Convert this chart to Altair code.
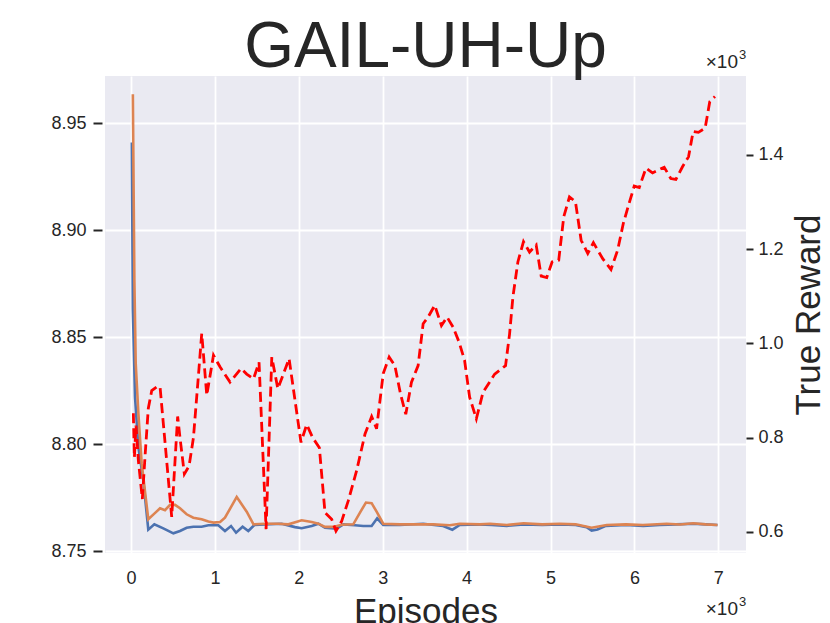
import altair as alt
import pandas as pd

# ---------------- data ----------------
blue_x = [10, 22, 48, 88, 147, 206, 278, 385, 505, 584, 663, 743, 842, 922, 1041,
          1120, 1192, 1252, 1330, 1398, 1470, 1597, 1795, 1955, 2034, 2154, 2233,
          2312, 2451, 2530, 2669, 2768, 2868, 2934, 3006, 3204, 3482, 3720, 3830,
          3918, 4156, 4300, 4480, 4680, 4900, 5110, 5300, 5430, 5490, 5560, 5660,
          5900, 6105, 6300, 6500, 6700, 6850, 6990]
blue_y = [8.941, 8.863, 8.822, 8.7985, 8.783, 8.760, 8.7625, 8.7606, 8.7583, 8.7594,
          8.7609, 8.7614, 8.7614, 8.7621, 8.7621, 8.7594, 8.7617, 8.7586, 8.7614,
          8.7594, 8.7622, 8.7625, 8.7628, 8.7612, 8.7607, 8.7617, 8.7628, 8.7609,
          8.7605, 8.7625, 8.7621, 8.7617, 8.7617, 8.7653, 8.7622, 8.7622, 8.7628,
          8.7617, 8.7600, 8.7622, 8.7625, 8.7622, 8.7618, 8.7625, 8.7622, 8.7625,
          8.7622, 8.7612, 8.7596, 8.7601, 8.7618, 8.7622, 8.7617, 8.7622, 8.7625,
          8.7628, 8.7625, 8.7622]

orange_x = [22, 40, 56, 88, 127, 206, 278, 346, 405, 465, 525, 584, 663, 743, 842,
            922, 983, 1062, 1120, 1260, 1379, 1460, 1597, 1756, 1876, 2034, 2154,
            2233, 2312, 2411, 2511, 2649, 2729, 2800, 2868, 2934, 3006, 3204, 3402,
            3601, 3800, 3918, 4156, 4280, 4480, 4680, 4900, 5110, 5300, 5490, 5670,
            5900, 6100, 6385, 6545, 6700, 6850, 6990]
orange_y = [8.9636, 8.8768, 8.8378, 8.8143, 8.791, 8.7649, 8.7675, 8.770, 8.7691,
            8.7716, 8.7716, 8.770, 8.7672, 8.7656, 8.7649, 8.7638, 8.7633, 8.7636,
            8.7656, 8.7753, 8.7684, 8.7625, 8.7628, 8.7628, 8.7625, 8.7644, 8.7636,
            8.7628, 8.7613, 8.7613, 8.7623, 8.7625, 8.7680, 8.7727, 8.7724, 8.7680,
            8.7628, 8.7625, 8.7625, 8.7625, 8.7621, 8.7628, 8.7625, 8.7628, 8.7622,
            8.7630, 8.7625, 8.7628, 8.7625, 8.7609, 8.7622, 8.7625, 8.7622, 8.7628,
            8.7624, 8.7630, 8.7625, 8.7622]

red_x = [28, 40, 60, 88, 135, 167, 206, 247, 307, 346, 485, 556, 584, 636, 692, 744,
         796, 843, 903, 983, 1062, 1180, 1311, 1379, 1460, 1526, 1610, 1678, 1750,
         1816, 1884, 1955, 2026, 2094, 2166, 2245, 2312, 2392, 2443, 2511, 2589,
         2689, 2789, 2868, 2927, 3006, 3077, 3145, 3212, 3275, 3343, 3422, 3482,
         3541, 3620, 3700, 3767, 3838, 3910, 3976, 4036, 4116, 4195, 4334, 4464,
         4512, 4552, 4611, 4678, 4750, 4829, 4889, 4955, 5019, 5098, 5158, 5226,
         5297, 5365, 5444, 5511, 5622, 5721, 5800, 5868, 5931, 5998, 6058, 6137,
         6216, 6355, 6434, 6494, 6573, 6645, 6700, 6763, 6843, 6898, 6960]
red_y = [852, 758, 826, 751, 670, 760, 862, 900, 908, 908, 632, 845, 800, 723, 740,
         800, 915, 1021, 890, 975, 950, 918, 947, 935, 925, 960, 606, 971, 904, 935,
         968, 879, 790, 828, 800, 779, 641, 627, 602, 623, 666, 730, 808, 845, 819,
         936, 971, 953, 893, 850, 918, 953, 1042, 1056, 1081, 1038, 1056, 1035,
         1003, 964, 886, 840, 896, 935, 953, 1020, 1099, 1173, 1216, 1194, 1209,
         1143, 1140, 1173, 1177, 1269, 1311, 1301, 1219, 1191, 1214, 1180, 1157,
         1198, 1255, 1294, 1334, 1331, 1372, 1362, 1374, 1350, 1348, 1375, 1396,
         1450, 1448, 1457, 1513, 1524]

x_ticks = [0, 1000, 2000, 3000, 4000, 5000, 6000, 7000]
left_ticks = [8.75, 8.80, 8.85, 8.90, 8.95]
right_ticks = [600, 800, 1000, 1200, 1400]

title_text = ["GAIL-UH-Up"]
exp_base = ["×10"]
exp_power = ["3"]

# ---------------- styling ----------------
FONT = "Liberation Sans"
TXT = "#262626"
W, H = 641, 477

blue_df = pd.DataFrame({"x": blue_x, "v": blue_y})
orange_df = pd.DataFrame({"x": orange_x, "v": orange_y})
red_df = pd.DataFrame({"x": red_x, "r": red_y})

xscale = alt.Scale(domain=[-310, 7330], nice=False, zero=False)
lscale = alt.Scale(domain=[8.7491, 8.9721], nice=False, zero=False)
rscale = alt.Scale(domain=[555.4, 1567.6], nice=False, zero=False)

xaxis = alt.Axis(values=x_ticks, labelExpr="format(datum.value / 1000, 'd')",
                 title="Episodes", titleFont=FONT, titleFontSize=35,
                 titleFontWeight="normal", titleColor=TXT, titlePadding=7,
                 labelFont=FONT, labelFontSize=18, labelColor=TXT, labelPadding=16,
                 tickSize=0, domain=False, grid=True, gridColor="white", gridWidth=1.8)

laxis = alt.Axis(values=left_ticks, format=".2f", title=None, orient="left",
                 labelFont=FONT, labelFontSize=18, labelColor=TXT, labelPadding=7,
                 tickSize=9, tickWidth=2, tickColor=TXT, offset=3, domain=False,
                 grid=True, gridColor="white", gridWidth=1.8)

raxis = alt.Axis(values=right_ticks, labelExpr="format(datum.value / 1000, '.1f')",
                 orient="right", title="True Reward", titleFont=FONT, titleFontSize=35,
                 titleFontWeight="normal", titleColor=TXT, titleAngle=270,
                 titleBaseline="top", titlePadding=8,
                 labelFont=FONT, labelFontSize=18, labelColor=TXT, labelPadding=5,
                 tickSize=7, tickWidth=2, tickColor=TXT, domain=False, grid=False)

blue = alt.Chart(blue_df).mark_line(color="#4C72B0", strokeWidth=2.6).encode(
    x=alt.X("x:Q", scale=xscale, axis=xaxis),
    y=alt.Y("v:Q", scale=lscale, axis=laxis),
)
orange = alt.Chart(orange_df).mark_line(color="#DD8452", strokeWidth=2.6).encode(
    x=alt.X("x:Q", scale=xscale, axis=xaxis),
    y=alt.Y("v:Q", scale=lscale, axis=laxis),
)
left = alt.layer(blue, orange)

red = alt.Chart(red_df).mark_line(color="#FF0000", strokeWidth=2.8,
                                  strokeDash=[10, 5]).encode(
    x=alt.X("x:Q", scale=xscale, axis=xaxis),
    y=alt.Y("r:Q", scale=rscale, axis=raxis),
)

title_df = pd.DataFrame({"t": title_text})
title = alt.Chart(title_df).mark_text(font=FONT, fontSize=64, color=TXT, align="center",
                                      baseline="alphabetic").encode(
    text="t:N", x=alt.value(W / 2), y=alt.value(-9))

base_df = pd.DataFrame({"t": exp_base})
pow_df = pd.DataFrame({"t": exp_power})


def exponent(base_y):
    b = alt.Chart(base_df).mark_text(font=FONT, fontSize=19, color=TXT, align="right",
                                     baseline="alphabetic").encode(
        text="t:N", x=alt.value(W - 8), y=alt.value(base_y))
    p = alt.Chart(pow_df).mark_text(font=FONT, fontSize=13, color=TXT, align="left",
                                    baseline="alphabetic").encode(
        text="t:N", x=alt.value(W - 7), y=alt.value(base_y - 9))
    return [b, p]


layers = [left, red, title] + exponent(-8) + exponent(H + 62)

chart = alt.layer(*layers).resolve_scale(
    y="independent"
).properties(
    width=W, height=H,
    autosize=alt.AutoSizeParams(type="none"),
    padding={"left": 97, "top": 68, "right": 76, "bottom": 70},
    background="white",
).configure_view(fill="#EAEAF2", stroke=None)

chart.save("out.html", embed_options={"renderer": "svg", "actions": False})
